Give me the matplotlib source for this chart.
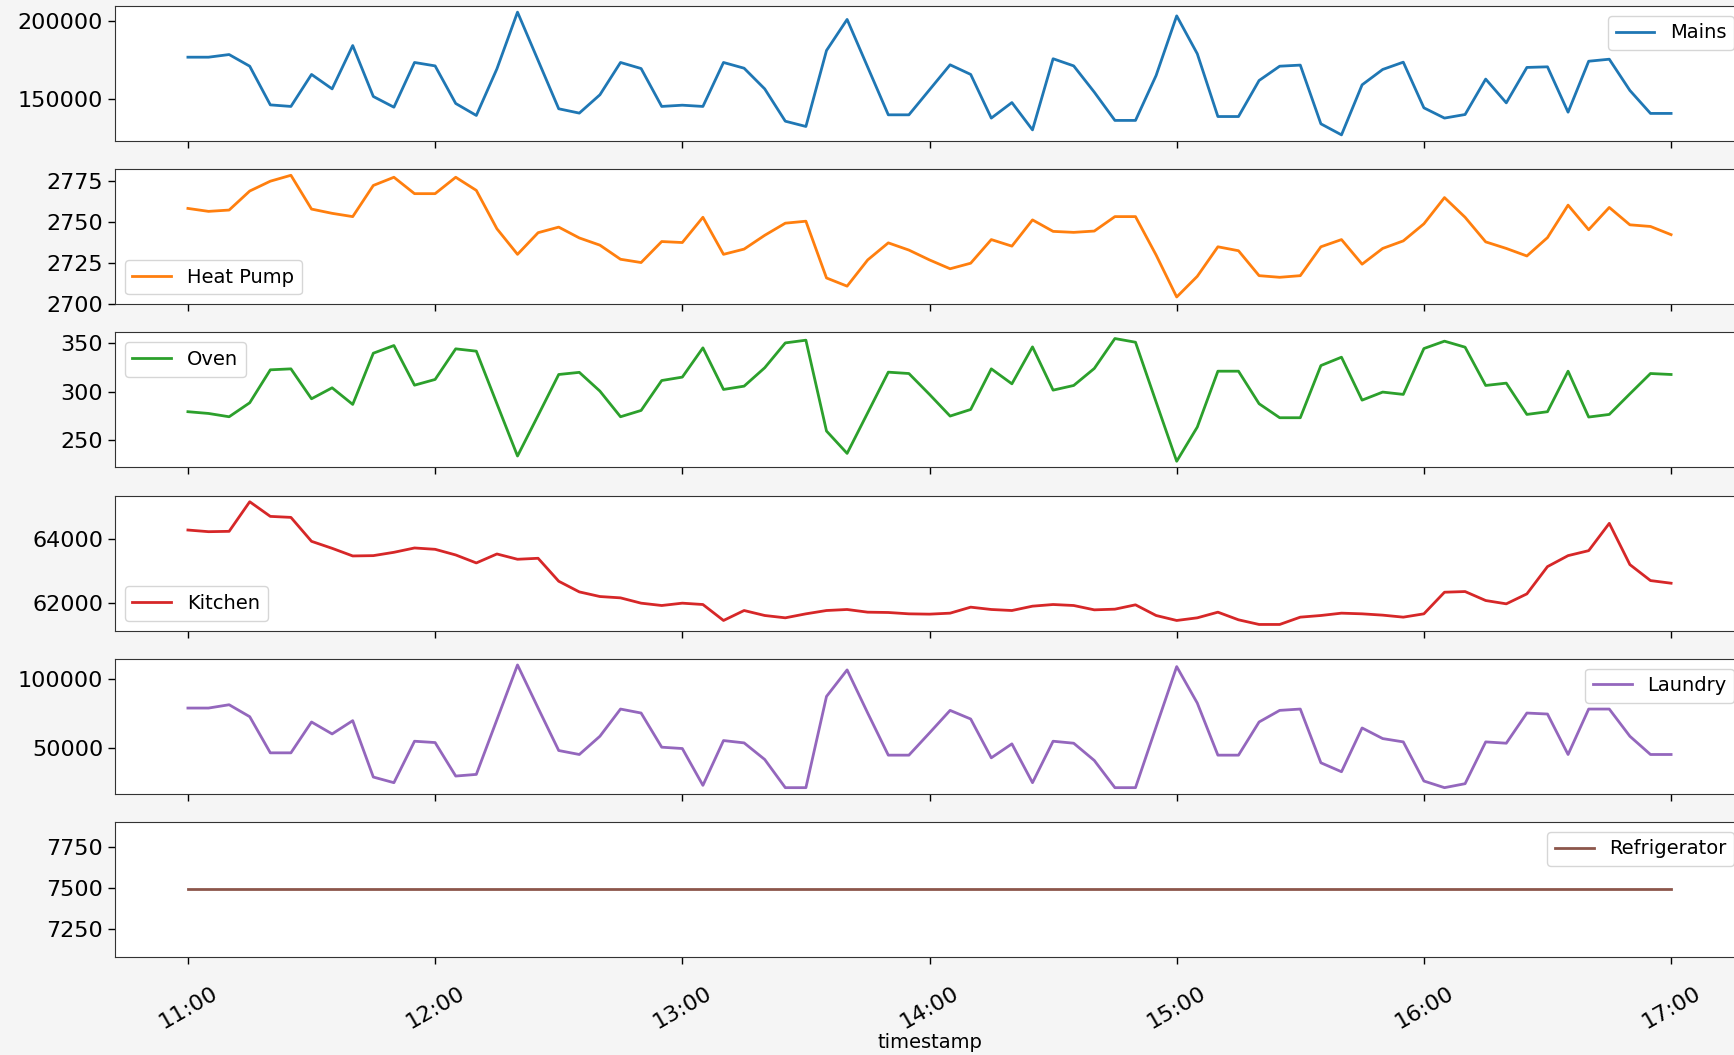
import numpy as np
import matplotlib
matplotlib.use("Agg")
import matplotlib.pyplot as plt
import matplotlib.dates as mdates
import pandas as pd

# 5-minute readings, 11:00 to 17:00
timestamp = pd.date_range("2011-04-18 11:00", "2011-04-18 17:00", freq="5min")

mains = [176800, 176800, 178500, 171000, 146100, 145100, 165700, 156400, 184300, 151500,
         144600, 173400, 171200, 147000, 139300, 169300, 205800, 174700, 143600, 140800,
         152600, 173400, 169500, 145100, 145900, 145100, 173400, 169700, 156400, 135600,
         132200, 181100, 201100, 170400, 139700, 139700, 155800, 171900, 165700, 137600,
         147600, 130000, 175800, 171200, 154300, 136100, 136100, 165000, 203400, 179000,
         138600, 138600, 161800, 171000, 171700, 133900, 126800, 159000, 168900, 173600,
         144200, 137600, 139900, 162700, 147400, 170200, 170600, 141400, 174200, 175500,
         155400, 140600, 140600]

heat_pump = [2758.4, 2756.6, 2757.4, 2769.0, 2775.0, 2778.6, 2758.0, 2755.4, 2753.4, 2772.4,
             2777.4, 2767.4, 2767.4, 2777.4, 2769.4, 2746.0, 2730.4, 2743.6, 2747.0, 2740.4,
             2736.0, 2727.4, 2725.4, 2738.2, 2737.6, 2753.0, 2730.4, 2733.6, 2742.0, 2749.4,
             2750.6, 2716.0, 2711.0, 2727.0, 2737.4, 2733.0, 2727.0, 2721.6, 2725.0, 2739.4,
             2735.4, 2751.4, 2744.4, 2743.8, 2744.6, 2753.4, 2753.4, 2730.0, 2704.4, 2717.0,
             2735.0, 2732.6, 2717.4, 2716.4, 2717.4, 2735.0, 2739.4, 2724.4, 2734.0, 2738.6,
             2749.0, 2765.0, 2753.0, 2738.0, 2734.0, 2729.4, 2740.6, 2760.4, 2745.4, 2759.0,
             2748.4, 2747.4, 2742.4]

oven = [279.5, 277.7, 274.3, 288.7, 322.6, 323.6, 292.8, 304.1, 287.0, 339.7,
        347.6, 306.8, 312.7, 344.2, 341.8, 287.7, 233.9, 275.7, 317.8, 320.0,
        300.7, 274.3, 280.8, 311.6, 315.1, 345.2, 302.4, 305.8, 324.7, 350.3,
        353.1, 259.6, 236.6, 278.4, 320.2, 318.8, 297.3, 275.0, 281.8, 323.6,
        308.2, 346.2, 301.7, 306.5, 324.0, 354.8, 351.0, 289.5, 228.5, 263.7,
        321.2, 321.2, 287.7, 273.3, 273.3, 327.0, 335.6, 291.4, 299.7, 297.3,
        344.5, 352.1, 345.9, 306.5, 308.9, 276.7, 279.5, 321.2, 274.0, 276.7,
        297.9, 318.8, 317.8]

kitchen = [64281, 64229, 64240, 65167, 64708, 64677, 63927, 63708, 63469, 63479,
           63583, 63719, 63677, 63500, 63250, 63531, 63365, 63396, 62677, 62343,
           62198, 62156, 61990, 61917, 61990, 61948, 61448, 61760, 61604, 61531,
           61656, 61760, 61792, 61708, 61698, 61656, 61646, 61677, 61865, 61792,
           61760, 61896, 61948, 61917, 61781, 61802, 61938, 61604, 61448, 61531,
           61708, 61469, 61323, 61323, 61552, 61604, 61677, 61656, 61615, 61552,
           61656, 62333, 62354, 62073, 61969, 62281, 63135, 63479, 63635, 64490,
           63198, 62698, 62615]

laundry = [78846, 78846, 81250, 72596, 46394, 46394, 68750, 60096, 69712, 28846,
           24760, 54808, 53846, 29567, 30769, 70433, 110096, 78846, 48077, 45192,
           58413, 78125, 75240, 50481, 49519, 22837, 55288, 53606, 41587, 21154,
           21154, 87260, 106490, 75240, 44712, 44712, 60817, 77163, 70913, 42788,
           52885, 24760, 54808, 53365, 40865, 21154, 21154, 65144, 108894, 82452,
           44712, 44712, 68750, 77163, 78125, 39183, 32692, 64423, 56731, 54327,
           25962, 21154, 24038, 54327, 53365, 75240, 74519, 45192, 78125, 78125,
           58413, 45192, 45192]

refrigerator = [7494] * len(timestamp)

names = ["Mains", "Heat Pump", "Oven", "Kitchen", "Laundry", "Refrigerator"]
series = [mains, heat_pump, oven, kitchen, laundry, refrigerator]
legend_loc = ["upper right", "lower left", "upper left", "lower left", "upper right", "upper right"]
ticks = [[150000, 200000], [2700, 2725, 2750, 2775], [250, 300, 350],
         [62000, 64000], [50000, 100000], [7250, 7500, 7750]]
colors = plt.rcParams["axes.prop_cycle"].by_key()["color"]

W, H = 1734, 1055
fig = plt.figure(figsize=(W / 100, H / 100), dpi=100, facecolor="#f5f5f5")

left_px, right_px = 115, 1744
top0, ax_h, step = 6, 135, 163.2

x0 = timestamp[0] - pd.Timedelta(minutes=17.7)
x1 = timestamp[-1] + pd.Timedelta(minutes=17.7)

axes = []
for k, (name, vals) in enumerate(zip(names, series)):
    top = top0 + k * step
    ax = fig.add_axes([left_px / W, 1 - (top + ax_h) / H, (right_px - left_px) / W, ax_h / H],
                      sharex=axes[0] if axes else None)
    ax.plot(timestamp, vals, color=colors[k], lw=2, label=name)
    ax.set_yticks(ticks[k])
    ax.tick_params(labelsize=16, length=5, width=1)
    ax.legend(loc=legend_loc[k], fontsize=14)
    for s in ax.spines.values():
        s.set_color("#333333")
    axes.append(ax)

axes[-1].set_ylim(7080, 7900)
axes[0].set_xlim(x0, x1)
axes[0].xaxis.set_major_locator(mdates.HourLocator())
axes[0].xaxis.set_major_formatter(mdates.DateFormatter("%H:%M"))
for ax in axes[:-1]:
    ax.tick_params(labelbottom=False)
axes[-1].tick_params(axis="x", pad=14)
for lab in axes[-1].get_xticklabels():
    lab.set_rotation(30)
    lab.set_ha("center")
axes[-1].set_xlabel("timestamp", fontsize=14, labelpad=0)

fig.savefig("out.png", dpi=100, facecolor=fig.get_facecolor())
